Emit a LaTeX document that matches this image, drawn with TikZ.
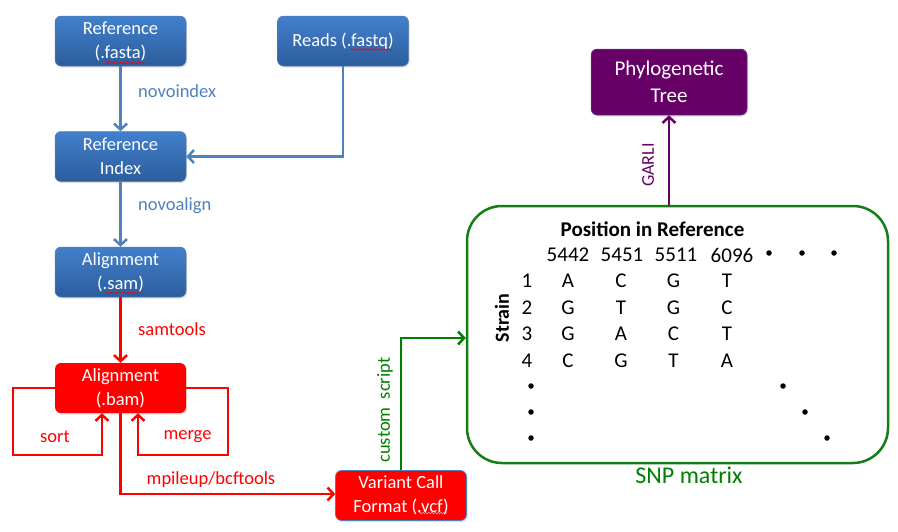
\documentclass[tikz,border=0pt]{standalone}
\usepackage{fontspec}
\setmainfont{Carlito}
\usetikzlibrary{arrows.meta,shadows,decorations.pathmorphing}
\definecolor{arrblue}{RGB}{79,129,189}
\definecolor{boxtop}{RGB}{66,128,204}
\definecolor{boxbot}{RGB}{44,93,156}
\definecolor{myred}{RGB}{255,0,0}
\definecolor{mygreen}{RGB}{0,128,0}
\definecolor{boxgreen}{RGB}{20,125,20}
\definecolor{mypurple}{RGB}{102,0,102}
\newcommand{\fsz}[1]{\fontsize{#1}{#1}\selectfont}
\tikzset{
  box/.style={rounded corners=6pt, minimum width=131pt, minimum height=50pt,
    text=white, align=center, font=\fontsize{18.5}{24}\selectfont, inner sep=2pt,
    drop shadow={shadow xshift=1pt, shadow yshift=-1.5pt, opacity=0.25}},
  bluebox/.style={box, top color=boxtop, bottom color=boxbot, draw=boxbot!80!white, line width=0.5pt},
  redbox/.style={box, fill=myred},
  arr/.style={line width=2.5pt, -{Straight Barb[length=6pt,width=13pt,line width=2.5pt]}},
  lbl/.style={font=\fsz{18.5}, inner sep=0pt},
  mtx/.style={font=\fsz{21}, inner sep=0pt},
  dot/.style={circle, fill=black, inner sep=0pt, minimum size=5.5pt},
  squig/.style={myred, line width=0.6pt, decorate, decoration={snake,amplitude=0.8pt,segment length=3pt}},
}
\begin{document}
\begin{tikzpicture}[x=1pt,y=-1pt]
\useasboundingbox (0,0) rectangle (898,531);
% nodes
\node[bluebox] (ref) at (120.5,41) {Reference\\(.fasta)};
\node[bluebox] (reads) at (343,41) {Reads (.fastq)};
\node[bluebox] (idx) at (120.5,156.5) {Reference\\Index};
\node[bluebox] (sam) at (120.5,272) {Alignment\\(.sam)};
\node[redbox] (bam) at (120.5,388) {Alignment\\(.bam)};
\node[redbox, draw=arrblue, line width=0.6pt] (vcf) at (401,495.5) {Variant Call\\Format (.vcf)};
\node[box, fill=mypurple, draw=arrblue!60!mypurple, line width=0.5pt, minimum width=156pt, minimum height=66pt, font=\fontsize{21}{27}\selectfont] (tree) at (669,82) {Phylogenetic\\Tree};
\node[draw=boxgreen, line width=2.5pt, rounded corners=35pt, minimum width=421pt, minimum height=257pt] (snp) at (677.5,334.5) {};
% spell-check squiggles
\draw[squig] ([xshift=-16pt,yshift=-22pt]ref.center) -- ([xshift=24pt,yshift=-22pt]ref.center);
\draw[squig] ([xshift=8pt,yshift=-8.5pt]reads.center) -- ([xshift=48pt,yshift=-8.5pt]reads.center);
\draw[squig] ([xshift=-14pt,yshift=-21pt]sam.center) -- ([xshift=20pt,yshift=-21pt]sam.center);
\draw[squig, white!70!black] ([xshift=18pt,yshift=-17.5pt]vcf.center) -- ([xshift=46pt,yshift=-17.5pt]vcf.center);
% connectors
\draw[arr, arrblue] (ref) -- (idx);
\draw[arr, arrblue] (reads.south) |- (idx.east);
\draw[arr, arrblue] (idx) -- (sam);
\draw[arr, myred] (sam) -- (bam);
\coordinate (sl) at (13,455);
\coordinate (ml) at (228,455);
\draw[arr, myred] (bam.west) -| (sl) -| ([xshift=-18.5pt]bam.south);
\draw[arr, myred] (bam.east) -| (ml) -| ([xshift=17.5pt]bam.south);
\draw[arr, myred] (bam.south) |- ([yshift=1.5pt]vcf.west);
\draw[arr, mygreen] (vcf.north) |- ([yshift=-3.5pt]snp.west);
\draw[arr, mypurple] (tree.south |- snp.north) -- (tree.south);
% labels
\node[lbl, text=arrblue, anchor=west] (l1) at (138,91) {novoindex};
\node[lbl, text=arrblue, anchor=west] (l2) at (138,206) {novoalign};
\node[lbl, text=myred, anchor=west] (l3) at (138,329) {samtools};
\node[lbl, text=myred] (l4) at (55,437) {sort};
\node[lbl, text=myred] (l5) at (187.5,437) {merge};
\node[lbl, text=myred] (l6) at (211,480) {mpileup/bcftools};
\node[lbl, text=mygreen, rotate=90] (l7) at (385,410) {custom\ \ script};
\node[font=\fsz{18}, inner sep=0pt, text=mypurple, rotate=90] (l8) at (648,165) {GARLI};
\node[font=\fsz{24}, inner sep=0pt, text=mygreen] (l9) at (689,475) {SNP matrix};
% matrix contents
\node[mtx, font=\bfseries\fsz{21}] (pos) at (652.5,229) {Position in Reference};
\node[mtx, font=\bfseries\fsz{20}, rotate=90] (strain) at (502,318) {Strain};
\foreach \n/\x in {5442/568,5451/622,5511/676,6096/732}
  \node[mtx] (h\n) at (\x,255) {\n};
\foreach \x [count=\i] in {769,802,834}
  \node[dot] (hd\i) at (\x,253) {};
\foreach \r/\y in {1/281,2/308,3/334,4/361}
  \node[mtx] (r\r) at (527,\y) {\r};
\foreach \a/\b/\c/\d [count=\r] in {A/C/G/T, G/T/G/C, G/A/C/T, C/G/T/A}{
  \pgfmathsetmacro{\yy}{{281,308,334,361}[\r-1]}
  \node[mtx] (c\r a) at (568,\yy) {\a};
  \node[mtx] (c\r b) at (621,\yy) {\b};
  \node[mtx] (c\r c) at (673.5,\yy) {\c};
  \node[mtx] (c\r d) at (727,\yy) {\d};
}
\foreach \y/\xd [count=\i] in {386/783,412/805,438/827}{
  \node[dot] (vd\i) at (531,\y) {};
  \node[dot] (dd\i) at (\xd,\y) {};
}
\end{tikzpicture}
\end{document}
